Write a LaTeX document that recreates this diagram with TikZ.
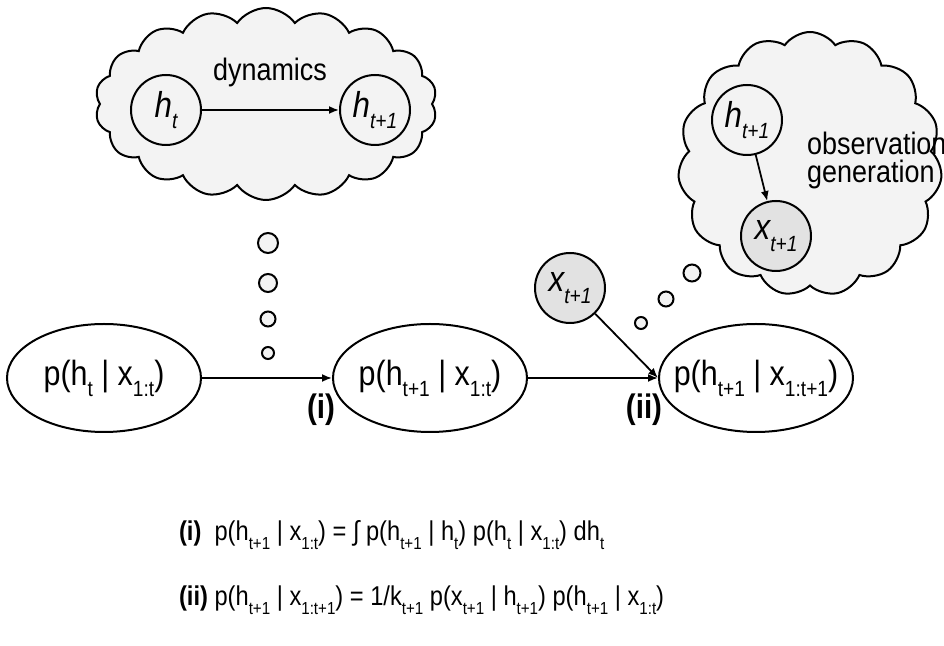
\documentclass[tikz,border=0pt]{standalone}
\usepackage{fontspec}
\setmainfont[FakeStretch=0.87]{Liberation Sans}
\usetikzlibrary{arrows.meta}
\usetikzlibrary{shapes.symbols}
\usetikzlibrary{shapes.geometric}
\definecolor{CloudGray}{HTML}{F3F3F3}
\definecolor{ObsGray}{HTML}{E2E2E2}
\newcommand{\lo}[1]{\raisebox{-0.6ex}{\fontsize{11}{11}\selectfont #1}}
\newcommand{\elo}[1]{\raisebox{-0.6ex}{\fontsize{8.7}{8.7}\selectfont #1}}
\tikzset{
  belief/.style={draw, line width=1pt, ellipse, minimum width=97pt, minimum height=54pt,
    inner xsep=-9pt, inner ysep=0pt, font=\fontsize{17.5}{20}\selectfont},
  latent/.style={draw, line width=1pt, circle, fill=CloudGray, minimum size=35pt,
    inner sep=-3pt, font=\fontsize{18}{20}\selectfont\itshape},
  observed/.style={latent, fill=ObsGray},
  thought/.style={draw, line width=1pt, cloud, cloud puffs=18, cloud puff arc=110,
    fill=CloudGray, inner sep=0pt},
  bubble/.style={draw, line width=1pt, circle, fill=CloudGray, inner sep=0pt},
  flow/.style={-{Latex[length=5pt,width=4pt]}, line width=0.9pt},
  tag/.style={font=\fontsize{17}{20}\selectfont\bfseries},
  eqn/.style={anchor=west, font=\fontsize{13.6}{16}\selectfont},
}

\begin{document}
\begin{tikzpicture}[x=0.5pt, y=-0.5pt]
  \useasboundingbox (0,0) rectangle (944,646);

  % dynamics
  \node[thought, minimum width=171pt, minimum height=96pt] (dyncloud) at (266,104) {};
  \node[latent] (ht) at (166,110) {h\lo{t}};
  \node[latent] (htnext) at (375,110) {h\lo{t+1}};
  \node[font=\fontsize{15.5}{18}\selectfont] (dynlabel) at (270,72) {dynamics};
  \draw[flow] (ht) -- (htnext);

  % observation generation
  \node[thought, cloud puffs=15, minimum width=132pt, minimum height=132pt] (obscloud) at (810,164) {};
  \node[latent] (hgen) at (747,120) {h\lo{t+1}};
  \node[observed] (xgen) at (776,236) {x\lo{t+1}};
  \node[anchor=west, align=left, font=\fontsize{15.5}{14}\selectfont] (obslabel) at (800,160) {observation\\generation};
  \draw[flow] (hgen) -- (xgen);

  \foreach \bx/\by/\br [count=\i] in {268/243/10, 268/283/9, 268/319/7.5, 268/353/6}
    \node[bubble, minimum size=\br pt] (dyndot\i) at (\bx,\by) {};
  \foreach \bx/\by/\br [count=\i] in {692/273/8.5, 666/299/7.5, 641/323/6}
    \node[bubble, minimum size=\br pt] (obsdot\i) at (\bx,\by) {};

  % filtering steps
  \node[belief] (prior) at (104,378) {p(h\lo{t} | x\lo{1:t})};
  \node[belief] (pred) at (430,378) {p(h\lo{t+1} | x\lo{1:t})};
  \node[belief] (post) at (756,378) {p(h\lo{t+1} | x\lo{1:t+1})};
  \node[observed] (xobs) at (570,288) {x\lo{t+1}};

  \draw[flow] (prior) -- (pred);
  \draw[flow] (pred) -- (post);
  \draw[flow] (xobs) -- (post.west);

  \node[tag] (stepi) at (321,410) {(i)};
  \node[tag] (stepii) at (644,410) {(ii)};

  \node[eqn] (eqi) at (172,535) {\textbf{(i)}\ \ p(h\elo{t+1} | x\elo{1:t}) = ∫ p(h\elo{t+1} | h\elo{t}) p(h\elo{t} | x\elo{1:t}) dh\elo{t}};
  \node[eqn] (eqii) at (172,600) {\textbf{(ii)} p(h\elo{t+1} | x\elo{1:t+1}) = 1/k\elo{t+1} p(x\elo{t+1} | h\elo{t+1}) p(h\elo{t+1} | x\elo{1:t})};
\end{tikzpicture}
\end{document}
